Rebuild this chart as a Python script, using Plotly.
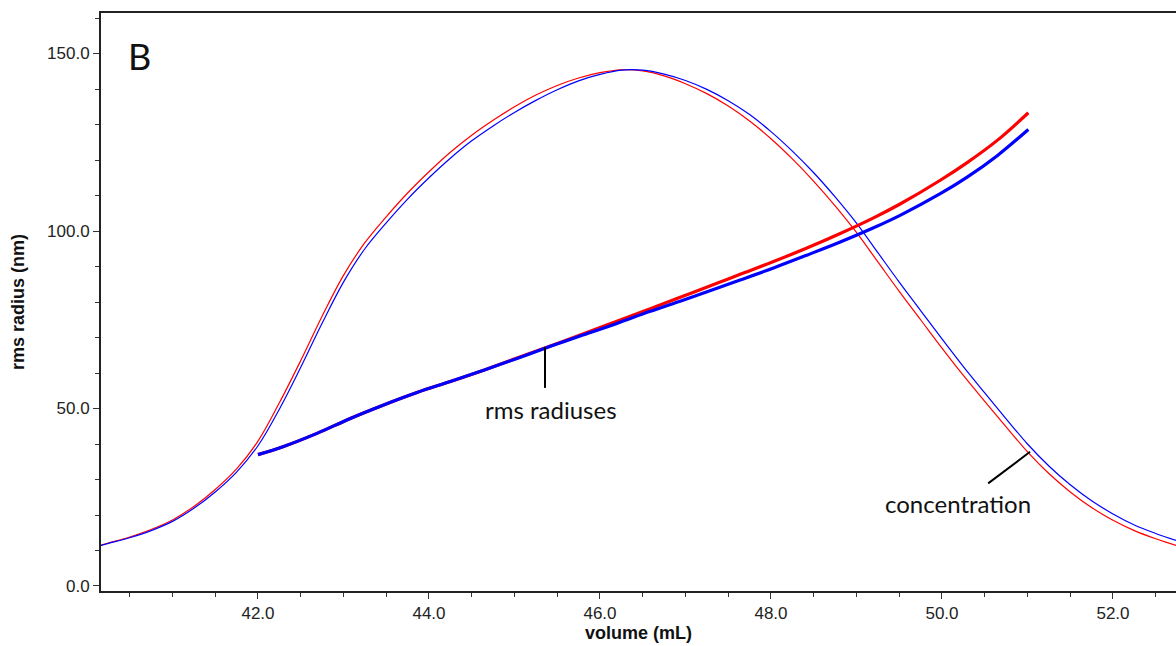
import plotly.graph_objects as go

# concentration traces (volume mL, value)
conc_x = [40.16, 40.25, 40.5, 40.75, 41.0, 41.25, 41.5, 41.75, 42.0, 42.25, 42.5, 42.75, 43.0,
          43.25, 43.5, 43.75, 44.0, 44.25, 44.5, 44.75, 45.0, 45.25, 45.5, 45.75, 46.0, 46.25,
          46.5, 46.75, 47.0, 47.25, 47.5, 47.75, 48.0, 48.25, 48.5, 48.75, 49.0, 49.25, 49.5,
          49.75, 50.0, 50.25, 50.5, 50.75, 51.0, 51.25, 51.5, 51.75, 52.0, 52.25, 52.5, 52.74]
conc_red_y = [11.5, 12.1, 13.8, 15.9, 18.6, 22.4, 27.2, 33.0, 40.8, 51.6, 63.5, 76.0, 87.5,
              96.7, 104.0, 110.7, 116.7, 122.2, 127.0, 131.2, 135.0, 138.3, 141.0, 143.1, 144.6, 145.4,
              145.1, 143.7, 141.5, 138.7, 135.2, 131.0, 126.0, 120.3, 114.0, 107.1, 99.6, 91.3, 83.0,
              75.0, 67.0, 59.3, 52.0, 44.8, 37.8, 31.7, 26.5, 22.1, 18.5, 15.6, 13.3, 11.4]
conc_blue_y = [11.4, 12.0, 13.6, 15.6, 18.2, 21.9, 26.5, 32.1, 39.5, 49.8, 61.6, 74.0, 85.6,
               95.0, 102.3, 109.0, 115.0, 120.5, 125.4, 129.6, 133.4, 136.8, 139.8, 142.3, 144.1, 145.3,
               145.3, 144.2, 142.4, 139.9, 136.7, 132.8, 128.0, 122.5, 116.4, 109.6, 102.2, 93.9, 85.6,
               77.6, 69.6, 61.8, 54.4, 47.1, 40.0, 33.8, 28.5, 24.0, 20.3, 17.2, 14.8, 12.8]

# rms radius traces
rms_x = [42.0, 42.3, 42.69, 43.08, 43.47, 43.86, 44.25, 44.64, 45.03, 45.42, 45.80, 46.19, 46.58,
         46.97, 47.36, 47.64, 48.03, 48.42, 48.81, 49.20, 49.51, 49.98, 50.29, 50.65, 51.01]
rms_red_y = [37.0, 39.3, 43.0, 47.2, 51.0, 54.5, 57.6, 60.8, 64.2, 67.6, 71.0, 74.5, 78.0,
             81.6, 85.2, 87.8, 91.4, 95.2, 99.3, 103.7, 107.6, 114.3, 119.2, 125.6, 133.3]
rms_blue_y = [37.0, 39.3, 43.0, 47.2, 51.0, 54.5, 57.6, 60.8, 64.1, 67.5, 70.7, 73.9, 77.3,
              80.5, 83.8, 86.2, 89.6, 93.2, 96.9, 100.9, 104.4, 110.5, 115.1, 121.3, 128.6]

x_range = [40.164, 52.737]
y_range = [-1.41, 161.41]

RED = "#ff0000"
BLUE = "#0000ff"

fig = go.Figure()
fig.add_trace(go.Scatter(x=conc_x, y=conc_red_y, mode="lines",
                         line=dict(color=RED, width=1.2, shape="spline", smoothing=1.0)))
fig.add_trace(go.Scatter(x=conc_x, y=conc_blue_y, mode="lines",
                         line=dict(color=BLUE, width=1.2, shape="spline", smoothing=1.0)))
fig.add_trace(go.Scatter(x=rms_x, y=rms_red_y, mode="lines",
                         line=dict(color=RED, width=3.2, shape="spline", smoothing=1.0)))
fig.add_trace(go.Scatter(x=rms_x, y=rms_blue_y, mode="lines",
                         line=dict(color=BLUE, width=3.2, shape="spline", smoothing=1.0)))

# pointer lines for the labels
fig.add_shape(type="line", x0=45.357, y0=67.3, x1=45.357, y1=55.8,
              line=dict(color="black", width=2))
fig.add_shape(type="line", x0=51.03, y0=37.8, x1=50.54, y1=28.9,
              line=dict(color="black", width=2))

label_font = dict(family="Lato, 'Open Sans', sans-serif", color="#111111")
fig.add_annotation(x=40.62, y=149.3, text="B", showarrow=False,
                   font=dict(label_font, size=36))
fig.add_annotation(x=45.43, y=49.6, text="rms radiuses", showarrow=False,
                   font=dict(label_font, size=24))
fig.add_annotation(x=50.19, y=23.3, text="concentration", showarrow=False,
                   font=dict(label_font, size=24))

axis_font = dict(family="'Liberation Sans', Arial, sans-serif", size=17, color="#222222")
title_font = dict(family="'Liberation Sans', Arial, sans-serif", size=18, color="#111111")

fig.update_layout(
    width=1176, height=646,
    margin=dict(l=101, r=0, t=13, b=55),
    plot_bgcolor="white", paper_bgcolor="white",
    showlegend=False,
    xaxis=dict(range=x_range, tick0=40, dtick=2, tickformat=".1f",
               showgrid=False, zeroline=False,
               showline=True, linecolor="#222222", linewidth=2, mirror=True,
               ticks="outside", ticklen=6, tickwidth=1, tickcolor="#333333",
               tickfont=axis_font,
               minor=dict(dtick=0.5, tick0=40, ticks="outside", ticklen=4, tickwidth=1, tickcolor="#333333"),
               title=dict(text="<b>volume (mL)</b>", font=title_font, standoff=2)),
    yaxis=dict(range=y_range, tick0=0, dtick=50, tickformat=".1f",
               showgrid=False, zeroline=False,
               showline=True, linecolor="#222222", linewidth=2,
               ticks="outside", ticklen=6, tickwidth=1, tickcolor="#333333",
               tickfont=axis_font,
               minor=dict(dtick=10, tick0=0, ticks="outside", ticklen=4, tickwidth=1, tickcolor="#333333"),
               title=dict(text="<b>rms radius (nm)</b>", font=title_font, standoff=18)),
)

fig.write_html("out.html")
